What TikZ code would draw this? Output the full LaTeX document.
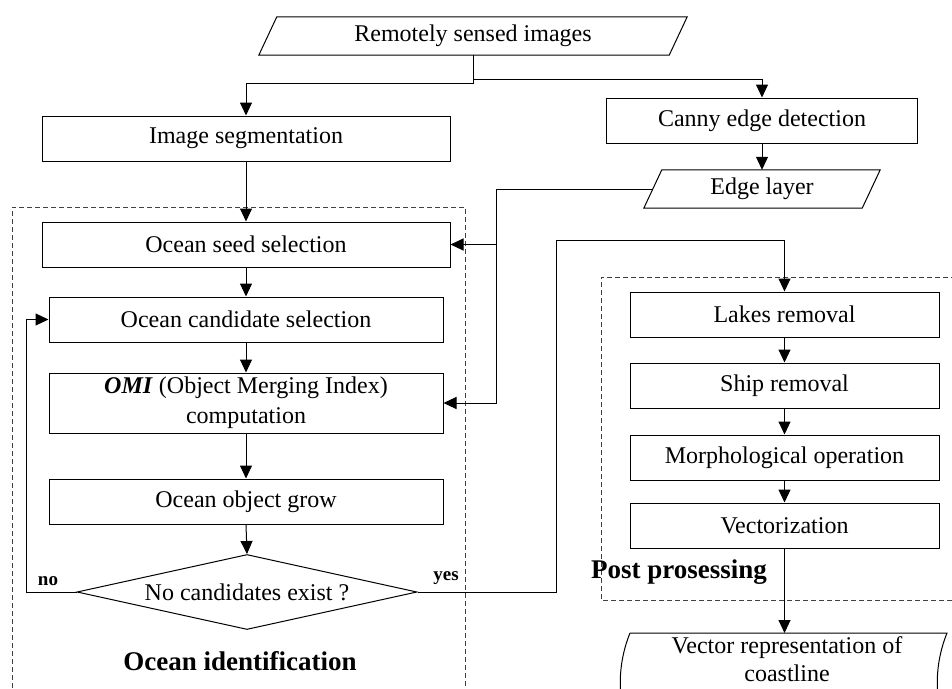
\documentclass[tikz,border=0pt]{standalone}
\usepackage{fontspec}
\setmainfont{Liberation Serif}
\usetikzlibrary{arrows.meta,shapes.geometric,calc}
\begin{document}
\begin{tikzpicture}[x=1pt,y=-1pt,
  box/.style={draw,rectangle,line width=1pt,inner sep=0pt,font=\fontsize{24}{30}\selectfont,align=center},
  io/.style={rectangle,inner sep=0pt,font=\fontsize{24}{30}\selectfont,align=center},
  arr/.style={line width=1pt,-{Triangle[length=13pt,width=12pt]}},
  ln/.style={line width=1pt},
  grp/.style={draw=black!75,line width=1pt,dash pattern=on 5pt off 3pt},
  lbl/.style={font=\bfseries\fontsize{27}{30}\selectfont},
  yn/.style={font=\bfseries\fontsize{19}{22}\selectfont}]
\useasboundingbox (0,0) rectangle (952,688);
\clip (0,0) rectangle (952,688);

% group frames
\draw[grp] (12,720) -- (12,207) -- (465,207) -- (465,720);
\draw[grp] (980,277) -- (601,277) -- (601,600) -- (980,600);

% input / output shapes
\node[io,minimum width=410pt,minimum height=38pt] (rsi) at (473,36) {Remotely sensed images};
\draw[ln] ($(rsi.south west)+(-9,0)$) -- ($(rsi.north west)+(9,0)$) -- ($(rsi.north east)+(9,0)$) -- ($(rsi.south east)+(-9,0)$) -- cycle;

\node[io,minimum width=218pt,minimum height=38pt] (edge) at (762,189) {Edge layer};
\draw[ln] ($(edge.south west)+(-9,0)$) -- ($(edge.north west)+(9,0)$) -- ($(edge.north east)+(9,0)$) -- ($(edge.south east)+(-9,0)$) -- cycle;

\node[io,font=\fontsize{24}{28}\selectfont] (vec) at (787,659) {Vector representation of\\coastline};
\coordinate (vtop) at (784.5,633);
\draw[ln] (630,633) -- (947,633) .. controls (934,665) and (934,701) .. (947,733);
\draw[ln] (630,633) .. controls (617,665) and (617,701) .. (630,733);

% left column
\node[box,minimum width=408pt,minimum height=45pt] (seg) at (246,138.5) {Image segmentation};
\node[box,minimum width=408pt,minimum height=45pt] (seed) at (246,244.5) {Ocean seed selection};
\node[box,minimum width=394pt,minimum height=45pt] (cand) at (246,319.5) {Ocean candidate selection};
\node[box,minimum width=394pt,minimum height=60pt] (omi) at (246,403) {\textbf{\textit{OMI}} (Object Merging Index)\\computation};
\node[box,minimum width=394pt,minimum height=45pt] (grow) at (246,501.5) {Ocean object grow};
\node[draw,diamond,aspect=4.5,inner sep=0pt,line width=1pt,minimum width=340pt,minimum height=75pt,font=\fontsize{24}{30}\selectfont] (dia) at (247,592) {No candidates exist ?};

% right column
\node[box,minimum width=311pt,minimum height=45pt] (canny) at (762,120.5) {Canny edge detection};
\node[box,minimum width=309pt,minimum height=45pt] (lakes) at (784.5,314.5) {Lakes removal};
\node[box,minimum width=309pt,minimum height=45pt] (ship) at (784.5,385.5) {Ship removal};
\node[box,minimum width=309pt,minimum height=45pt] (morph) at (784.5,457.5) {Morphological operation};
\node[box,minimum width=309pt,minimum height=45pt] (vect) at (784.5,525.5) {Vectorization};

% labels
\node[lbl] (oi) at (240,661) {Ocean identification};
\node[lbl] (pp) at (679,572) {Post prosessing};
\node[yn] (no) at (48,581) {no};
\node[yn] (yes) at (446,578) {yes};

% connectors
\coordinate (b1) at (473,83);
\coordinate (b2) at (473,79);
\draw[arr] (rsi.south) -- (b1) -| (seg.north);
\draw[arr] (b2) -| (canny.north);
\draw[arr] (canny.south) -- (edge.north);
\draw[arr] (seg.south) -- (seed.north);
\draw[arr] (seed.south) -- (cand.north);
\draw[arr] (cand.south) -- (omi.north);
\draw[arr] (omi.south) -- (grow.north);
\draw[arr] (grow.south) -- (dia.north);

\coordinate (l1) at (26,592);
\draw[arr] (dia.west) -- (l1) |- (cand.west);

\coordinate (y1) at (556,592);
\coordinate (y2) at (556,240);
\draw[arr] (dia.east) -- (y1) -- (y2) -| (lakes.north);

\coordinate (e1) at (496,189);
\draw[arr] (edge.west) -- (e1) |- (seed.east);
\draw[arr] (e1 |- seed.east) |- (omi.east);

\draw[arr] (lakes.south) -- (ship.north);
\draw[arr] (ship.south) -- (morph.north);
\draw[arr] (morph.south) -- (vect.north);
\draw[arr] (vect.south) -- (vtop);
\end{tikzpicture}
\end{document}
